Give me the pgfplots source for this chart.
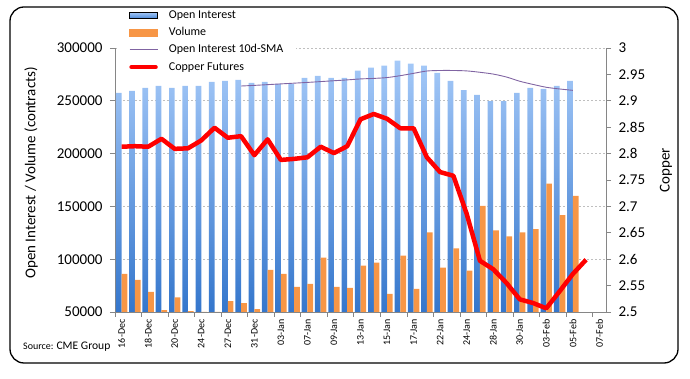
\documentclass[border=0pt]{standalone}
\usepackage{pgfplots}
\pgfplotsset{compat=1.18}
\usepackage{pgfplotstable}
\usepackage{fontspec}
\setmainfont{Carlito}
\definecolor{oiTop}{RGB}{165,201,248}
\definecolor{oiBot}{RGB}{52,118,204}
\definecolor{volC}{RGB}{247,150,70}
\definecolor{smaC}{RGB}{128,100,162}
\definecolor{axC}{RGB}{134,134,134}
\pgfplotstableread{
x oi vol cu
0 257400 86200 2.813
1 259300 80500 2.814
2 262200 69000 2.813
3 264100 51700 2.828
4 262200 63900 2.809
5 264100 50800 2.810
6 264100 45000 2.825
7 267900 45000 2.849
8 268900 60400 2.830
9 269800 58400 2.833
10 266900 52700 2.797
11 267900 90000 2.827
12 266000 86200 2.788
13 266000 73800 2.790
14 271700 76600 2.793
15 273700 101600 2.813
16 271700 73800 2.801
17 271700 72800 2.814
18 278500 93900 2.865
19 281300 96750 2.875
20 283200 67100 2.866
21 288000 103500 2.848
22 285100 71800 2.848
23 283200 125500 2.793
24 276500 92000 2.765
25 268900 110200 2.758
26 260200 89100 2.686
27 255500 150400 2.597
28 249700 127400 2.581
29 249700 121700 2.555
30 257400 125500 2.524
31 262200 128400 2.517
32 261200 171500 2.507
33 264100 141800 2.539
34 268900 160000 2.572
35 nan nan 2.599
}\data
\pgfplotstableread{
x sma
9 264000
10 264600
11 265300
12 266000
13 266700
14 267400
15 268200
16 269000
17 269800
18 270700
19 271200
20 272000
21 273800
22 276000
23 278200
24 278700
25 278700
26 278300
27 277000
28 275300
29 272500
30 268500
31 265500
32 262800
33 261200
34 259900
}\sma
\begin{document}
\begin{tikzpicture}
\begin{axis}[
  scale only axis, width=491pt, height=264pt,
  xmin=-0.5, xmax=36.5, ymin=50000, ymax=300000,
  axis y line*=left, axis x line*=bottom,
  axis line style={draw=axC, line width=0.8pt},
  tick style={draw=axC, line width=0.8pt},
  tick align=outside, major tick length=0pt, minor tick length=5pt,
  xtick={0,2,...,36},
  xticklabels={16-Dec,18-Dec,20-Dec,24-Dec,27-Dec,31-Dec,03-Jan,07-Jan,09-Jan,13-Jan,15-Jan,17-Jan,22-Jan,24-Jan,28-Jan,30-Jan,03-Feb,05-Feb,07-Feb},
  minor xtick={-0.5,1.5,...,36.5},
  xticklabel style={rotate=90, anchor=east, xshift=-4pt, font=\fontsize{10}{12}\selectfont},
  ytick={50000,100000,150000,200000,250000,300000},
  minor ytick={50000,100000,150000,200000,250000,300000},
  yticklabels={50000,100000,150000,200000,250000,300000},
  scaled y ticks=false, scaled x ticks=false,
  yticklabel style={xshift=-9pt, font=\fontsize{15}{18}\selectfont},
  ymajorgrids, major grid style={dash pattern=on 2pt off 2pt, draw=gray!50, line width=0.6pt},
  ylabel={Open Interest / Volume (contracts)},
  every axis y label/.style={at={(axis description cs:-0.171,0.527)}, anchor=center, rotate=90, font=\fontsize{15}{18}\selectfont},
]
\addplot[ybar, bar width=5.7pt, bar shift=-2.85pt, draw=none, top color=oiTop, bottom color=oiBot] table[x=x,y=oi]{\data};
\addplot[ybar, bar width=5.7pt, bar shift=2.85pt, draw=none, fill=volC] table[x=x,y=vol]{\data};
\addplot[smaC, line width=0.9pt, smooth, tension=0.5] table[x=x,y=sma]{\sma};
\end{axis}
\begin{axis}[
  scale only axis, width=491pt, height=264pt,
  xmin=-0.5, xmax=36.5, ymin=2.5, ymax=3,
  axis y line*=right, axis x line=none,
  axis line style={draw=axC, line width=0.8pt},
  tick style={draw=axC, line width=0.8pt},
  tick align=outside, major tick length=5pt,
  ytick={2.5,2.55,2.6,2.65,2.7,2.75,2.8,2.85,2.9,2.95,3},
  yticklabels={2.5,2.55,2.6,2.65,2.7,2.75,2.8,2.85,2.9,2.95,3},
  scaled y ticks=false,
  yticklabel style={xshift=4pt, font=\fontsize{15}{18}\selectfont},
  ylabel={Copper},
  every axis y label/.style={at={(axis description cs:1.122,0.538)}, anchor=center, rotate=90, font=\fontsize{15}{18}\selectfont},
  legend style={at={(axis description cs:0.004,1.1515)}, anchor=north west, draw=none, fill=white,
    inner xsep=12pt, inner ysep=0pt, font=\fontsize{12}{14}\selectfont, row sep=3.3pt, column sep=10pt,
    nodes={inner sep=1pt, text height=9pt, text depth=3pt}},
  legend cell align=left,
]
\addlegendimage{legend image code/.code={\shade[top color=oiTop, bottom color=oiBot!75!oiTop] (0pt,-3pt) rectangle (28pt,3pt);}}
\addlegendentry{Open Interest}
\addlegendimage{legend image code/.code={\fill[volC] (0pt,-3.5pt) rectangle (28pt,3.5pt);}}
\addlegendentry{Volume}
\addlegendimage{legend image code/.code={\draw[smaC, line width=0.8pt] (0pt,0pt) -- (28pt,0pt);}}
\addlegendentry{Open Interest 10d-SMA}
\addplot[red, line width=4.5pt, line join=round, legend image code/.code={\draw[red, line width=4.5pt, line cap=round] (2pt,0pt) -- (26pt,0pt);}] table[x=x,y=cu]{\data};
\addlegendentry{Copper Futures}
\end{axis}
\draw[black, line width=1.3pt, rounded corners=14pt] (-105pt,-51pt) rectangle (563pt,305pt);
\node[anchor=base west, inner sep=0pt] at (-92pt,-38pt) {{\fontsize{10}{12}\selectfont Source:} {\fontsize{11.6}{14}\selectfont CME Group}};
\pgfresetboundingbox
\path[use as bounding box] (-115pt,-67pt) rectangle (575pt,312pt);
\end{tikzpicture}
\end{document}
